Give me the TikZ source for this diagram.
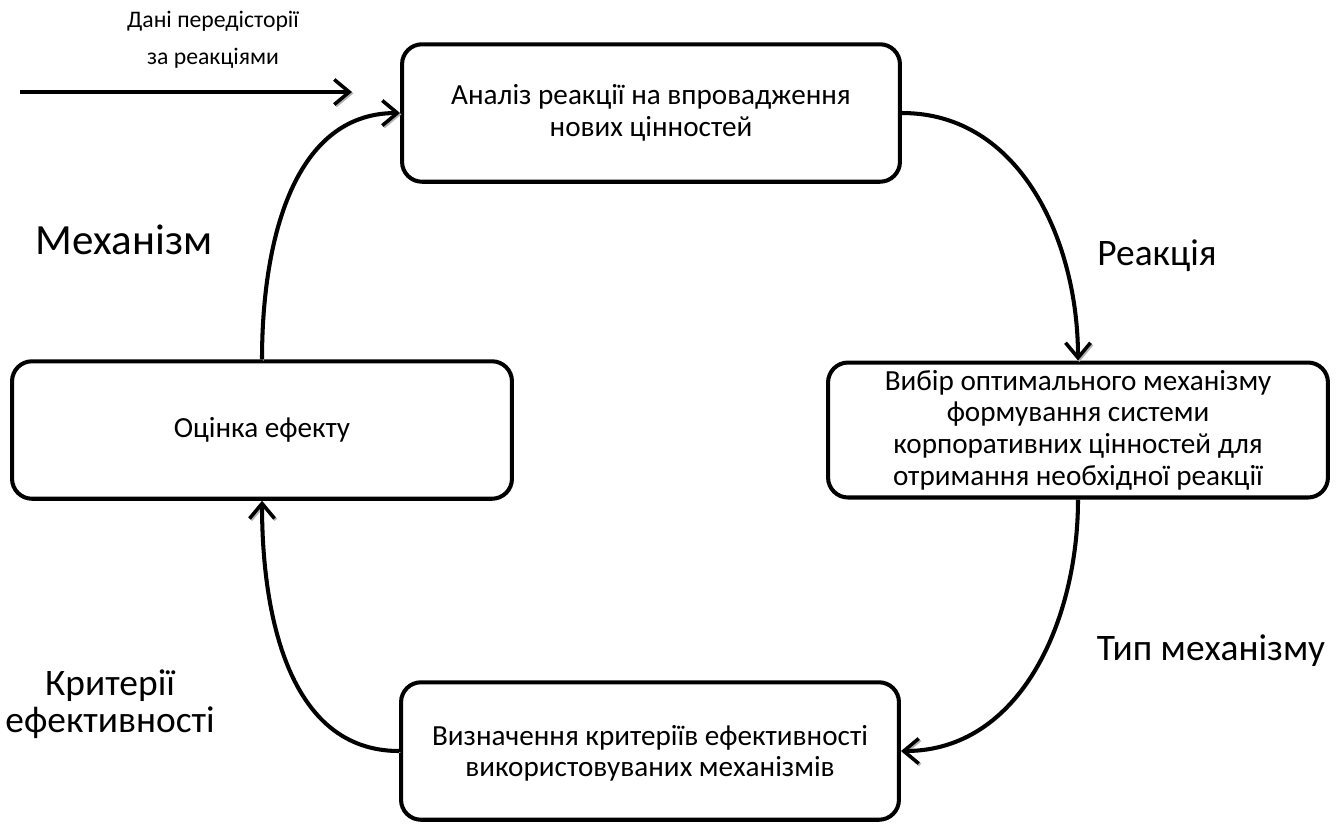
\documentclass[tikz,border=0pt]{standalone}
\usepackage{fontspec}
\setmainfont{Carlito}
\usetikzlibrary{arrows.meta}
\tikzset{>={Straight Barb[length=0.3cm,width=0.5cm,line width=2pt]}}

\begin{document}
\begin{tikzpicture}[x=0.02cm, y=-0.02cm]
                % boxes go round clockwise, labels sit beside the arrows
                \tikzstyle{step box}=[draw=black, line width=2.3pt, rounded corners=0.4cm, align=center,
                        font=\fontsize{16.6}{18}\selectfont, minimum width=9.96cm, minimum height=2.75cm]
                \tikzstyle{arr label}=[align=center, font=\fontsize{21.3}{21}\selectfont]
                \tikzstyle{arr}=[->, line width=2.3pt,
                        preaction={draw=gray!60, transform canvas={shift={(0.8pt,-0.8pt)}}}]
                \useasboundingbox (0,0) rectangle (1342,823);
                \node[step box] (Analiz) at (651,113) {Аналіз реакції на впровадження\\нових цінностей};
                \node[step box, minimum width=10cm, minimum height=2.7cm, inner sep=1pt] (Vybir) at (1078,430)
                        {Вибір оптимального механізму\\формування системи\\корпоративних цінностей для\\отримання необхідної реакції};
                \node[step box, text depth=-4pt] (Vyznach) at (650,751) {Визначення критеріїв ефективності\\використовуваних механізмів};
                \node[step box, minimum width=10cm] (Otsinka) at (262,430) {Оцінка ефекту};
                \coordinate (In0) at (20,92);
                \coordinate (In1) at (352,92);
                \draw[arr] (In0) -- (In1);
                \node[arr label, font=\fontsize{13.5}{21}\selectfont] (Dani) at (213,40) {Дані передісторії\\за реакціями};
                \draw[arr] (Analiz.east) to[out=0, in=90] (Vybir.north);
                \draw[arr] (Vybir.south) to[out=-90, in=0] (Vyznach.east);
                \draw[arr] (Vyznach.west) to[out=180, in=-90] (Otsinka.south);
                \draw[arr] (Otsinka.north) to[out=90, in=180] (Analiz.west);
                \node[arr label, font=\fontsize{24.5}{28}\selectfont] (Mech) at (124,240) {Механізм};
                \node[arr label] (React) at (1157,256) {Реакція};
                \node[arr label] (Typ) at (1211,651) {Тип механізму};
                \node[arr label] (Kryt) at (110,704) {Критерії\\ефективності};
        \end{tikzpicture}
\end{document}
